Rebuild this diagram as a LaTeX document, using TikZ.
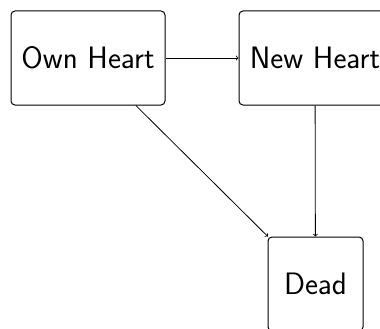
\documentclass[tikz,border=0pt]{standalone}
\usetikzlibrary{arrows}
\begin{document}
\begin{tikzpicture}[x=1pt,y=-1pt,
  state/.style={draw, rounded corners=4pt, line width=1pt, inner sep=0pt,
    font=\sffamily\fontsize{31}{36}\selectfont},
  edge/.style={->, line width=0.8pt}]
\useasboundingbox (0,0) rectangle (380,329);
\node[state, minimum width=154pt, minimum height=94pt] (own) at (88,58) {Own Heart};
\node[state, minimum width=152pt, minimum height=94pt] (new) at (315,58) {New Heart};
\node[state, minimum width=95pt, minimum height=94pt] (dead) at (315.5,284) {Dead};
\draw[edge] (own) -- (new);
\draw[edge] (own) -- (dead);
\draw[edge] (new) -- (dead);
\end{tikzpicture}
\end{document}
